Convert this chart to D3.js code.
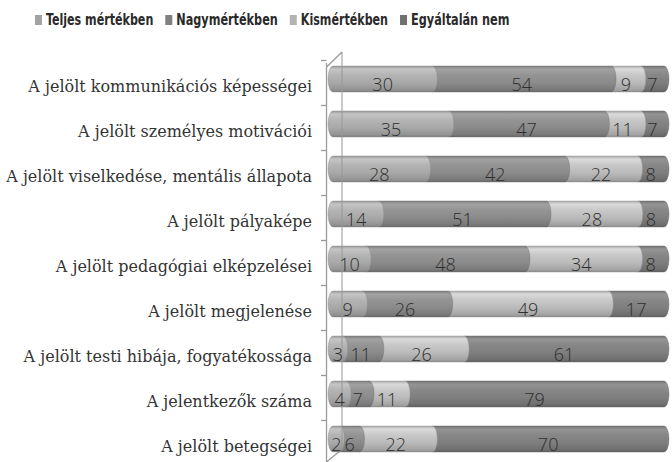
<!DOCTYPE html>
<html>
<head>
<meta charset="utf-8">
<script src="https://cdn.jsdelivr.net/npm/d3@7"></script>
<style>
  body { margin: 0; background: #fff; }
  .catLabel { font-family: "DejaVu Serif", serif; font-size: 16px; fill: #333; }
  .valLabel { font-family: "Open Sans", "Liberation Sans", sans-serif; font-weight: 300; font-size: 18px; fill: #2e2e2e; }
  .legendLabel { font-family: "DejaVu Sans Condensed", sans-serif; font-size: 14px; fill: #2a2a2a; }
</style>
</head>
<body>
<script>
// Chart data
const categories = [
  "A jelölt kommunikációs képességei",
  "A jelölt személyes motivációi",
  "A jelölt viselkedése, mentális állapota",
  "A jelölt pályaképe",
  "A jelölt pedagógiai elképzelései",
  "A jelölt megjelenése",
  "A jelölt testi hibája, fogyatékossága",
  "A jelentkezők száma",
  "A jelölt betegségei"
];
const seriesNames = ["Teljes mértékben", "Nagymértékben", "Kismértékben", "Egyáltalán nem"];
const teljes = [30, 35, 28, 14, 10, 9, 3, 4, 2];
const nagy   = [54, 47, 42, 51, 48, 26, 11, 7, 6];
const kis    = [9, 11, 22, 28, 34, 49, 26, 11, 22];
const egy    = [7, 7, 8, 8, 8, 17, 61, 79, 70];
const seriesColors = ["#a8a8a8", "#8a8a8a", "#bababa", "#7e7e7e"];
const legendColors = ["#a3a3a3", "#808080", "#b3b3b3", "#707070"];

const width = 672, height = 462;
const keys = ["s0", "s1", "s2", "s3"];
const rows = categories.map((c, i) => ({ cat: c, s0: teljes[i], s1: nagy[i], s2: kis[i], s3: egy[i] }));

const stacked = d3.stack().keys(keys).offset(d3.stackOffsetExpand)(rows);

const svg = d3.select("body").append("svg")
  .attr("width", width).attr("height", height);

// scales
const x = d3.scaleLinear().domain([0, 1]).range([333, 664]);
const y = d3.scaleBand().domain(categories).range([56.5, 461.5]).paddingInner(0.42).paddingOuter(0.21);

// vertical gradients for cylinder shading
const defs = svg.append("defs");
seriesColors.forEach((col, i) => {
  const c = d3.color(col);
  const g = defs.append("linearGradient").attr("id", "grad" + i)
    .attr("x1", 0).attr("y1", 0).attr("x2", 0).attr("y2", 1);
  [[0, c.darker(0.3)], [0.12, c.brighter(0.45)], [0.35, c.brighter(0.2)],
   [0.65, c], [0.9, c.darker(0.35)], [1, c.darker(0.8)]]
    .forEach(s => g.append("stop").attr("offset", s[0]).attr("stop-color", s[1]));
});

// 3D wall lines
const wall = svg.append("g").attr("stroke", "#9a9a9a").attr("fill", "none").attr("stroke-width", 1.3);
wall.append("line").attr("x1", 326.5).attr("x2", 326.5).attr("y1", 63).attr("y2", 462);
wall.append("path").attr("d", "M326.5,67 L342,52");
wall.append("path").attr("d", "M326.5,462 L341,450");
wall.selectAll(".tick").data(d3.range(categories.length + 1)).enter()
  .append("line")
  .attr("x1", 321).attr("x2", 326.5)
  .attr("y1", i => 60 + i * y.step() + 0.5)
  .attr("y2", i => 60 + i * y.step() + 0.5);

// cylinder segments
const h = y.bandwidth(), ry = h / 2, rx = 5;
function segPath(a, b, t, first) {
  const bt = t + h;
  let p = `M${a},${t} L${b},${t} A${rx},${ry} 0 0 1 ${b},${bt} L${a},${bt}`;
  if (first) p += ` A${rx},${ry} 0 0 1 ${a},${t}`;
  return p + "Z";
}

const barG = svg.append("g");
// draw last series first so earlier segments' rounded ends sit on top
stacked.slice().reverse().forEach(layer => {
  const si = keys.indexOf(layer.key);
  barG.selectAll(".seg" + si).data(layer).enter()
    .append("path")
    .attr("class", "seg" + si)
    .attr("d", d => segPath(x(d[0]), x(d[1]), y(d.data.cat), si === 0))
    .attr("fill", "url(#grad" + si + ")")
    .attr("stroke", d3.color(seriesColors[si]).darker(0.6))
    .attr("stroke-width", 0.4);
});

// back wall line shows through the bars
svg.append("line").attr("x1", 342).attr("x2", 342).attr("y1", 52).attr("y2", 450)
  .attr("stroke", "#9a9a9a").attr("stroke-width", 1.3).attr("opacity", 0.8);

// value labels
stacked.forEach(layer => {
  const si = keys.indexOf(layer.key);
  const vals = [teljes, nagy, kis, egy][si];
  svg.selectAll(".val" + si).data(layer).enter()
    .append("text")
    .attr("class", "valLabel")
    .attr("x", d => (x(d[0]) + x(d[1])) / 2)
    .attr("y", d => y(d.data.cat) + h / 2 + 12)
    .attr("text-anchor", "middle")
    .text((d, i) => vals[i]);
});

// category labels
svg.selectAll(".catLabel").data(categories).enter()
  .append("text")
  .attr("class", "catLabel")
  .attr("x", 312)
  .attr("y", d => y(d) + h / 2 + 13)
  .attr("text-anchor", "end")
  .text(d => d);

// legend - bold condensed text squeezed to the width of the regular face
const legend = svg.append("g");
let lx = 35;
seriesNames.forEach((name, i) => {
  legend.append("rect").attr("x", lx).attr("y", 15).attr("width", 7).attr("height", 10)
    .attr("fill", legendColors[i]);
  const t = legend.append("text").attr("class", "legendLabel")
    .attr("x", lx + 11).attr("y", 25).text(name);
  const w = t.node().getComputedTextLength();
  t.style("font-weight", "bold").style("font-size", "15px")
    .attr("textLength", w).attr("lengthAdjust", "spacingAndGlyphs");
  lx += 11 + w + 12;
});
</script>
</body>
</html>
